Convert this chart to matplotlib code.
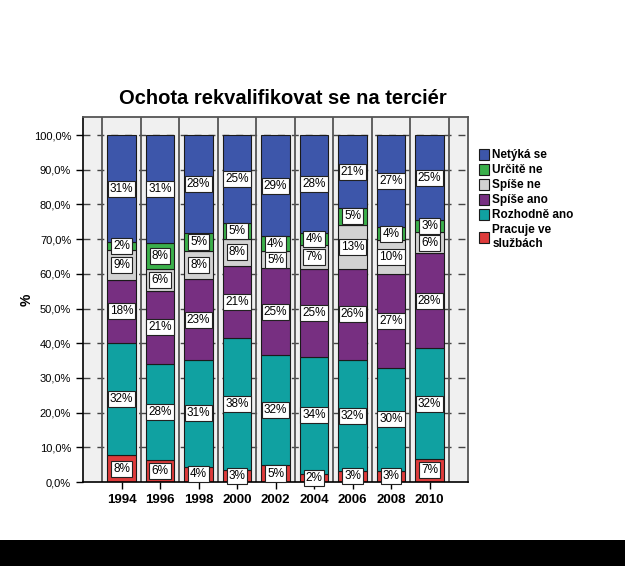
import numpy as np
import matplotlib
matplotlib.use('Agg')
import matplotlib.pyplot as plt
from matplotlib.patches import Rectangle

plt.rcParams['font.family'] = ['Liberation Sans', 'DejaVu Sans']

# data (bottom to top of each bar)
years = ['1994', '1996', '1998', '2000', '2002', '2004', '2006', '2008', '2010']
categories = ['Pracuje ve\nslužbách', 'Rozhodně ano', 'Spíše ano', 'Spíše ne', 'Určitě ne', 'Netýká se']
pracuje = [7.7, 6.3, 4.4, 3.4, 4.9, 2.4, 3.2, 3.2, 6.7]
rozhodne_ano = [32.4, 27.8, 30.7, 38.2, 31.6, 33.7, 31.9, 29.7, 31.8]
spise_ano = [18.1, 20.9, 23.3, 20.8, 25.2, 25.4, 26.4, 27.2, 27.6]
spise_ne = [8.6, 6.3, 8.1, 7.6, 4.8, 6.8, 12.6, 9.6, 6.0]
urcite_ne = [2.4, 7.6, 5.4, 4.7, 4.4, 3.6, 4.9, 3.7, 3.3]
netyka_se = [30.8, 31.1, 28.1, 25.3, 29.1, 28.1, 21.0, 26.6, 24.6]
yticks = [0, 10, 20, 30, 40, 50, 60, 70, 80, 90, 100]
ytick_labels = ['0,0%', '10,0%', '20,0%', '30,0%', '40,0%', '50,0%', '60,0%', '70,0%', '80,0%', '90,0%', '100,0%']

series = [pracuje, rozhodne_ano, spise_ano, spise_ne, urcite_ne, netyka_se]
colors = ['#de3b3b', '#10a1a1', '#772f81', '#d2d2d2', '#3bb04b', '#3d56aa']

fig = plt.figure(figsize=(6.25, 5.66), dpi=100)
ax = fig.add_axes([83/625, 1-482/566, 385/625, (482-116.7)/566])
ax.set_facecolor('#f0f0f0')

x = np.arange(len(years))
ax.set_xlim(-1, 9)
ax.set_ylim(0, 105.3)

# dashed grid + column separators
for t in yticks[1:]:
    ax.axhline(t, color='#444444', lw=1.0, ls=(0, (5, 5)), zorder=0.5)
for b in np.arange(-0.5, 9, 1):
    ax.axvline(b, color='#555555', lw=1.3, zorder=0.6)

bottom = np.zeros(len(years))
label_pos = [[] for _ in years]
for vals, col in zip(series, colors):
    vals = np.array(vals)
    ax.bar(x, vals, 0.75, bottom=bottom, color=col, edgecolor='#1a1a1a', lw=0.8, zorder=2)
    for i in range(len(years)):
        label_pos[i].append((bottom[i] + vals[i] / 2, vals[i]))
    bottom += vals

# labels, top down, pushed so boxes don't overlap
h = 4.8
for i in range(len(years)):
    prev = None
    for yc, v in reversed(label_pos[i]):
        if prev is not None and yc > prev - h:
            yc = prev - h
        prev = yc
        ax.text(x[i], yc, '%d%%' % round(v), ha='center', va='center', fontsize=8.5,
                zorder=5, clip_on=False,
                bbox=dict(boxstyle='square,pad=0.17', fc='white', ec='#222222', lw=0.8))

ax.set_xticks(x)
ax.set_xticklabels(years, fontsize=9.5, fontweight='bold')
ax.set_yticks(yticks)
ax.set_yticklabels(ytick_labels, fontsize=8)
ax.tick_params(axis='both', length=5, width=1, color='black')
for s in ['top', 'right']:
    ax.spines[s].set_color('#555555')
    ax.spines[s].set_linewidth(1.3)
for s in ['left', 'bottom']:
    ax.spines[s].set_color('black')
    ax.spines[s].set_linewidth(1.2)

ax.set_ylabel('%', fontsize=10, fontweight='bold', labelpad=0)
ax.set_title('Ochota rekvalifikovat se na terciér', fontsize=14.5, fontweight='bold', pad=9, x=0.518)

handles = [Rectangle((0, 0), 1, 1, fc=c, ec='#1a1a1a', lw=0.8) for c in colors][::-1]
fig.legend(handles, categories[::-1], loc='upper left', bbox_to_anchor=(468/625, 1-138/566),
           frameon=False, handlelength=0.9, handleheight=1.1, handletextpad=0.25,
           labelspacing=0.2, prop={'weight': 'bold', 'size': 8.5})

# black strip at the bottom
fig.patches.append(Rectangle((0, 0), 1, 26/566, transform=fig.transFigure, fc='black', ec='none'))

fig.savefig('out.png', dpi=100)
